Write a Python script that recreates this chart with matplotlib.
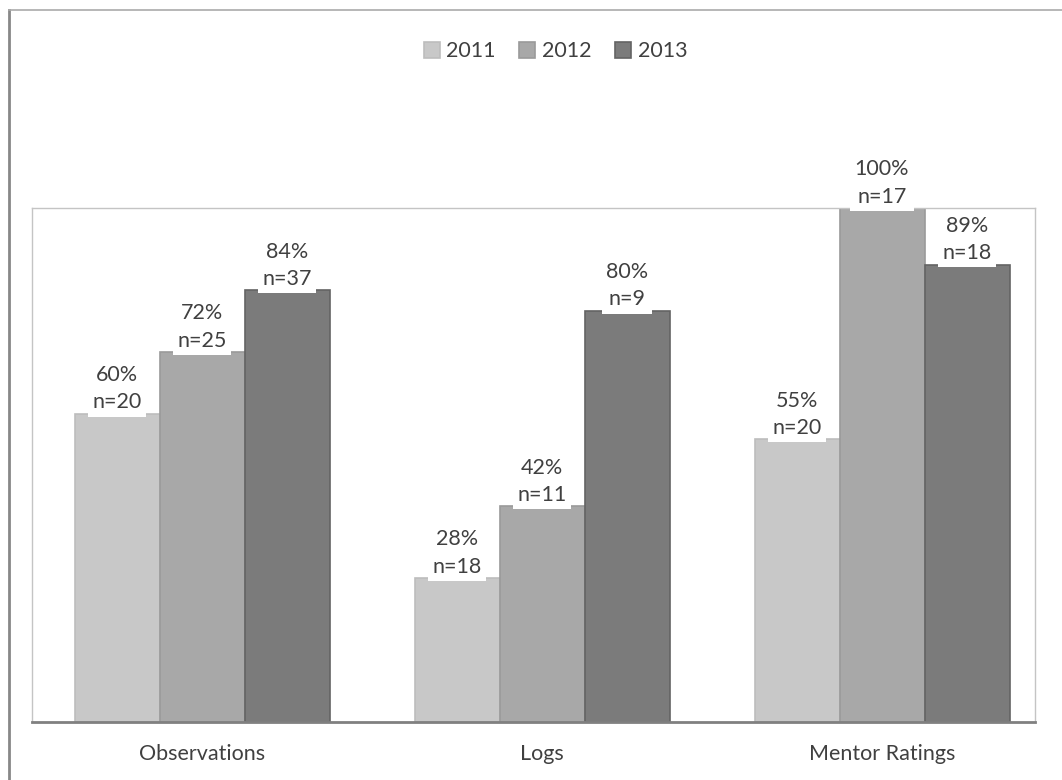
import matplotlib.pyplot as plt
import numpy as np
from matplotlib.lines import Line2D

plt.rcParams['font.family'] = ['Lato', 'DejaVu Sans']

# ---------------- Data ----------------
categories = ["Observations", "Logs", "Mentor Ratings"]
years = ["2011", "2012", "2013"]

pct_2011 = [0.60, 0.28, 0.55]
pct_2012 = [0.72, 0.42, 1.00]
pct_2013 = [0.84, 0.80, 0.89]

n_2011 = [20, 18, 20]
n_2012 = [25, 11, 17]
n_2013 = [37, 9, 18]

series = [pct_2011, pct_2012, pct_2013]
counts = [n_2011, n_2012, n_2013]
colors = ["#c8c8c8", "#a8a8a8", "#7b7b7b"]
edges = ["#bdbdbd", "#9a9a9a", "#636363"]
text_col = "#404040"

fig = plt.figure(figsize=(10.62, 7.8), dpi=100)
ax = fig.add_axes([32/1062, 58/780, 1003/1062, 514/780])

x = np.arange(len(categories))
width = 0.25

for i, (vals, ns) in enumerate(zip(series, counts)):
    pos = x + (i - 1) * width
    ax.bar(pos, vals, width, color=colors[i], edgecolor=edges[i],
           linewidth=1.2, label=years[i], zorder=2)
    for px, v, n in zip(pos, vals, ns):
        ax.annotate(f"{v:.0%}\nn={n}", (px, v), xytext=(0, 1),
                    textcoords="offset points", ha="center", va="bottom",
                    fontsize=15.5, color=text_col, linespacing=1.45,
                    bbox=dict(boxstyle="square,pad=0.2", fc="white",
                              ec="none"),
                    zorder=4, annotation_clip=False)

ax.set_xlim(-0.5, 2.45)
ax.set_ylim(0, 1.0)
ax.set_yticks([])
ax.set_xticks(x)
ax.set_xticklabels(categories, fontsize=15.5, color=text_col)
ax.tick_params(axis="x", length=0, pad=16)

for side in ["top", "left", "right"]:
    ax.spines[side].set_color("#c4c4c4")
    ax.spines[side].set_linewidth(1.0)
ax.spines["bottom"].set_color("#808080")
ax.spines["bottom"].set_linewidth(2.0)

fig.legend(loc="upper center", bbox_to_anchor=(0.523, 0.972), ncol=3,
           frameon=False, fontsize=15.5, handlelength=0.75, handleheight=0.75,
           handletextpad=0.3, columnspacing=1.1, labelcolor=text_col)

# chart area border (top and left edges)
fig.add_artist(Line2D([9/1062, 9/1062], [0, 1 - 10/780],
                      transform=fig.transFigure, color="#888888", lw=2))
fig.add_artist(Line2D([9/1062, 1], [1 - 10/780, 1 - 10/780],
                      transform=fig.transFigure, color="#aaaaaa", lw=1.2))

fig.savefig("out.png", dpi=100)
